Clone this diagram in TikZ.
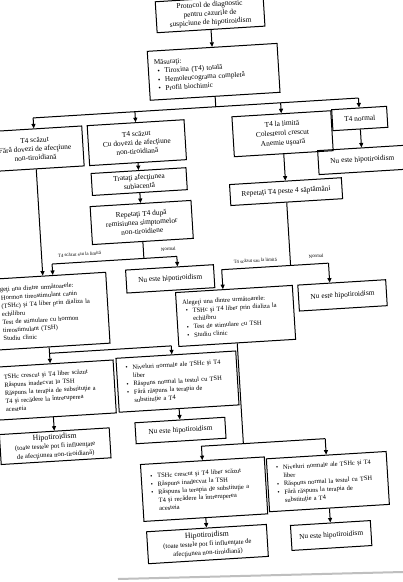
\documentclass[tikz,border=0pt]{standalone}
\usepackage{fontspec}
\setmainfont{Liberation Serif}
\usetikzlibrary{arrows.meta}
\newcommand{\bl}{\hspace*{3pt}\makebox[7pt][l]{\textbullet}}
\newcommand{\ind}{\hspace*{10pt}}
\begin{document}
\begin{tikzpicture}[x=1pt,y=-1pt,
  box/.style={draw, line width=1pt, align=center, inner sep=2pt, font=\fontsize{7.4}{8.8}\selectfont},
  lbox/.style={draw, line width=1pt, align=left, inner xsep=6pt, inner ysep=2pt, font=\fontsize{6.5}{8.2}\selectfont},
  hbox/.style={box, font=\fontsize{6.7}{8.8}\selectfont},
  arr/.style={line width=1pt, -{Triangle[length=4.5pt,width=4pt]}},
  ln/.style={line width=1pt},
  lab/.style={font=\fontsize{4.8}{5.5}\selectfont, inner sep=0.5pt}]
\fill[white] (0,0) rectangle (403,582);
\useasboundingbox (0,0) rectangle (403,582);
\draw[black!25, line width=2pt] (118,579) -- (403,572);
\begin{scope}[rotate around={3.5:(201,291)}, transform shape]
% nodes
\node[box, minimum width=108pt, minimum height=31pt] (top) at (227,15) {Protocol de diagnostic\\pentru cazurile de\\suspiciune de hipotiroidism};
\node[lbox, text width=118pt, minimum height=49pt, font=\fontsize{7.2}{8.7}\selectfont] (mas) at (227,73) {Măsuraţi:\\\bl Tiroxina (T4) totală\\\bl Hemoleucograma completă\\\bl Profil biochimic};
\node[box, minimum width=96pt, minimum height=40pt] (b1) at (44,139) {T4 scăzut\\Fără dovezi de afecţiune\\non-tiroidiană};
\node[box, minimum width=97pt, minimum height=40pt] (b2) at (146,139) {T4 scăzut\\Cu dovezi de afecţiune\\non-tiroidiană};
\node[box, minimum width=99pt, minimum height=40pt, font=\fontsize{7.4}{9.5}\selectfont] (lim) at (292,139) {T4 la limită\\Colesterol crescut\\Anemie uşoară};
\node[box, minimum width=55pt, minimum height=21pt] (norm) at (370,128.5) {T4 normal};
\node[box, minimum width=88pt, minimum height=24pt] (nu1) at (370,170) {Nu este hipotiroidism};
\node[box, minimum width=95pt, minimum height=22pt] (trat) at (146,178) {Trataţi afecţiunea\\subiacentă};
\node[box, minimum width=101pt, minimum height=38pt] (rep1) at (146,219) {Repetaţi T4 după\\remisiunea simptomelor\\non-tiroidiene};
\node[box, minimum width=112pt, minimum height=21pt] (rep2) at (292,197) {Repetaţi T4 peste 4 săptămâni};
\node[lbox, text width=110pt, minimum height=71pt] (ale1) at (46,302) {Alegeţi una dintre următoarele:\\\bl Hormon tireostimulant canin\\\ind (TSHc) şi T4 liber prin dializa la\\\ind echilibru\\\bl Test de stimulare cu hormon\\\ind tireostimulant (TSH)\\\bl Studiu clinic};
\node[box, minimum width=88pt, minimum height=23pt] (nu2) at (171,277) {Nu este hipotiroidism};
\node[box, minimum width=88pt, minimum height=26pt] (nu3) at (342,304) {Nu este hipotiroidism};
\node[lbox, text width=105pt, minimum height=54pt] (ale2) at (234,318) {Alegeţi una dintre următoarele:\\\bl TSHc şi T4 liber prin dializa la\\\ind echilibru\\\bl Test de stimulare cu TSH\\\bl Studiu clinic};
\node[lbox, text width=114pt, minimum height=53pt] (tsh1) at (46,381) {\bl TSHc crescut şi T4 liber scăzut\\\bl Răspuns inadecvat la TSH\\\bl Răspuns la terapia de substituţie a\\\ind T4 şi recădere la întreruperea\\\ind acesteia};
\node[lbox, text width=108pt, minimum height=54pt] (niv1) at (172,380) {\bl Niveluri normale ale TSHc şi T4\\\ind liber\\\bl Răspuns normal la testul cu TSH\\\bl Fără răspuns la terapia de\\\ind substituţie a T4};
\node[hbox, minimum width=110pt, minimum height=30pt] (hip1) at (46,437) {{\fontsize{7.8}{8.8}\selectfont Hipotiroidism}\\(toate testele pot fi influenţate\\de afecţiunea non-tiroidiană)};
\node[box, minimum width=90pt, minimum height=21pt] (nu4) at (172,429) {Nu este hipotiroidism};
\node[lbox, text width=112pt, minimum height=57pt] (tsh2) at (192,489) {\bl TSHc crescut şi T4 liber scăzut\\\bl Răspuns inadecvat la TSH\\\bl Răspuns la terapia de substituţie a\\\ind T4 şi recădere la întreruperea\\\ind acesteia};
\node[lbox, text width=108pt, minimum height=53pt] (niv2) at (316,489) {\bl Niveluri normale ale TSHc şi T4\\\ind liber\\\bl Răspuns normal la testul cu TSH\\\bl Fără răspuns la terapia de\\\ind substituţie a T4};
\node[hbox, minimum width=120pt, minimum height=32pt] (hip2) at (192,544) {{\fontsize{7.8}{8.8}\selectfont Hipotiroidism}\\(toate testele pot fi influenţate de\\afecţiunea non-tiroidiană)};
\node[box, minimum width=80pt, minimum height=25pt] (nu5) at (316,543) {Nu este hipotiroidism};
% labels
\node[lab] (l1) at (82,247) {T4 scăzut sau la limită};
\node[lab] (l2) at (171,247) {Normal};
\node[lab] (l3) at (257,264) {T4 scăzut sau la limită};
\node[lab] (l4) at (318,263) {Normal};
% coordinates
\coordinate (c1) at (227,108);
\coordinate (h1L) at (44,108);
\coordinate (c2) at (146,108);
\coordinate (c3) at (292,108);
\coordinate (h1R) at (370,108);
\coordinate (a1in1) at (44,266);
\coordinate (c4) at (146,255);
\coordinate (h2L) at (54,255);
\coordinate (h2R) at (179,255);
\coordinate (a1in2) at (54,266);
\coordinate (nu2in) at (179,265);
\coordinate (c5) at (292,271);
\coordinate (h3L) at (223,271);
\coordinate (h3R) at (330,271);
\coordinate (a2in) at (223,290.5);
\coordinate (nu3in) at (330,290.5);
\coordinate (c6) at (46,344);
\coordinate (h4R) at (168,344);
\coordinate (niv1in) at (168,352.5);
\coordinate (c7) at (234,446);
\coordinate (h5L) at (192,446);
\coordinate (h5R) at (316,446);
% connectors
\draw[arr] (top.south) -- (mas.north);
\draw[ln] (mas.south) -- (c1);
\draw[ln] (h1L) -- (h1R);
\draw[arr] (h1L) -- (b1.north);
\draw[arr] (c2) -- (b2.north);
\draw[arr] (c3) -- (lim.north);
\draw[arr] (h1R) -- (norm.north);
\draw[arr] (b2.south) -- (trat.north);
\draw[arr] (trat.south) -- (rep1.north);
\draw[arr] (lim.south) -- (rep2.north);
\draw[arr] (norm.south) -- (nu1.north);
\draw[arr] (b1.south) -- (a1in1);
\draw[ln] (rep1.south) -- (c4);
\draw[ln] (h2L) -- (h2R);
\draw[arr] (h2L) -- (a1in2);
\draw[arr] (h2R) -- (nu2in);
\draw[ln] (rep2.south) -- (c5);
\draw[ln] (h3L) -- (h3R);
\draw[arr] (h3L) -- (a2in);
\draw[arr] (h3R) -- (nu3in);
\draw[ln] (ale1.south) -- (c6) -- (h4R);
\draw[arr] (c6) -- (tsh1.north);
\draw[arr] (h4R) -- (niv1in);
\draw[arr] (tsh1.south) -- (hip1.north);
\draw[arr] (niv1.south) -- (nu4.north);
\draw[ln] (ale2.south) -- (c7);
\draw[ln] (h5L) -- (h5R);
\draw[arr] (h5L) -- (tsh2.north);
\draw[arr] (h5R) -- (niv2.north);
\draw[arr] (tsh2.south) -- (hip2.north);
\draw[arr] (niv2.south) -- (nu5.north);
\end{scope}
\end{tikzpicture}
\end{document}
